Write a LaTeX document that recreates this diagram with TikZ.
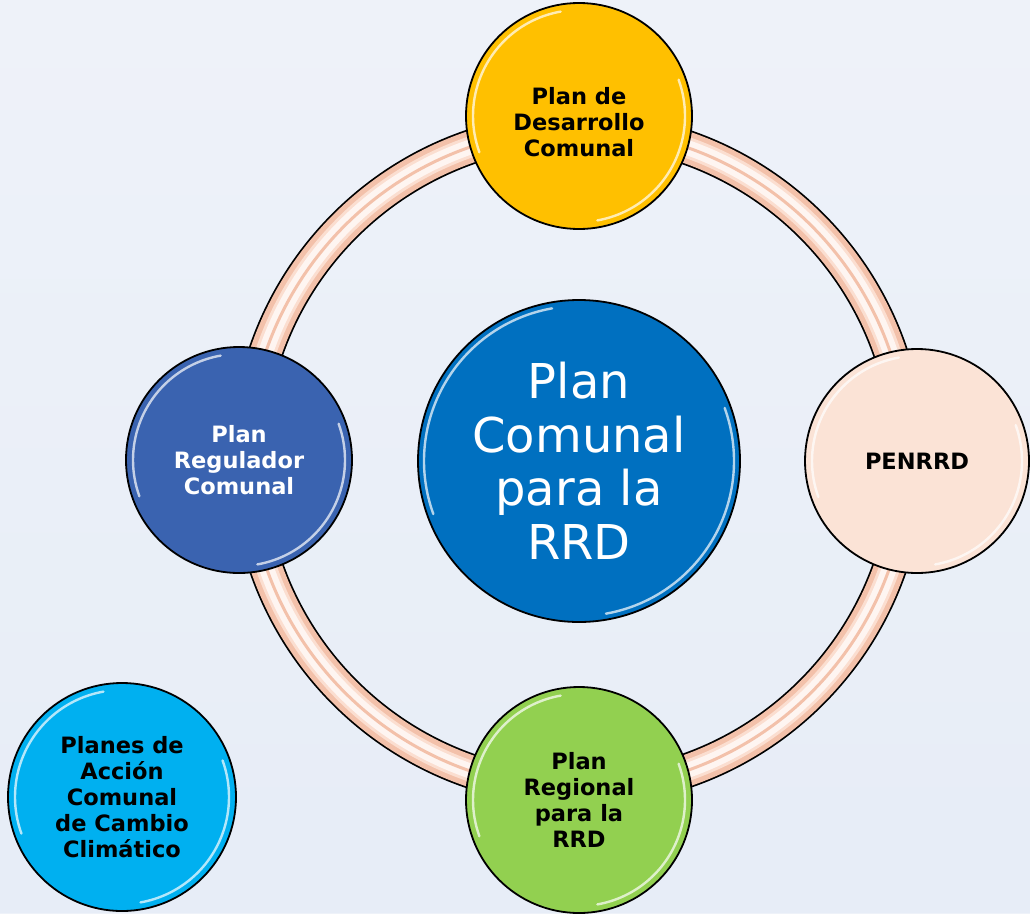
\documentclass[tikz,border=0pt]{standalone}
\usepackage{fontspec}
\setmainfont{DejaVu Sans}
\definecolor{bgc}{RGB}{231,237,247}
\definecolor{ringc}{RGB}{243,193,170}
\definecolor{ringl}{RGB}{251,222,208}
\definecolor{yel}{RGB}{255,192,0}
\definecolor{pea}{RGB}{251,227,214}
\definecolor{blu}{RGB}{58,99,176}
\definecolor{grn}{RGB}{146,208,80}
\definecolor{cya}{RGB}{0,176,240}
\definecolor{cen}{RGB}{0,112,192}
\tikzset{
  bubble/.style={circle, draw=black, line width=1.8pt, minimum size=#1, inner sep=0pt, align=center,
     font=\fontsize{22.5}{26}\selectfont\bfseries},
  lbl/.style={align=center, inner sep=0pt, font=\fontsize{22.5}{26}\selectfont\bfseries},
  gloss/.style={white, line width=2.4pt, opacity=0.7, line cap=round},
}
\newcommand{\glossy}[2]{%
  \draw[gloss] ([shift={(100:#2)}]#1.center) arc (100:200:#2);
  \draw[gloss] ([shift={(-80:#2)}]#1.center) arc (-80:20:#2);
}
\begin{document}
\begin{tikzpicture}[x=1pt,y=-1pt]
\useasboundingbox (0,0) rectangle (1030,913);
\fill[bgc] (0,0) rectangle (1030,913);
\shade[top color=bgc!55!white, bottom color=bgc, opacity=0.7] (0,0) rectangle (1030,913);
% ring
\coordinate (o) at (578,459);
\draw[black, line width=35pt] (o) circle (330pt);
\draw[ringc, line width=31.5pt] (o) circle (330pt);
\draw[ringl, line width=21pt] (o) circle (330pt);
\draw[white!70!ringl, line width=15pt] (o) circle (330pt);
\draw[ringc, line width=3pt] (o) circle (330pt);
% nodes
\node[bubble=226pt, fill=yel] (pdc) at (579,116) {};
\node[lbl] (pdct) at (579,122) {Plan de\\Desarrollo\\Comunal};
\node[bubble=224pt, fill=pea] (pen) at (917,461) {PENRRD};
\node[bubble=226pt, fill=blu, text=white] (prc) at (239,460) {Plan\\Regulador\\Comunal};
\node[bubble=226pt, fill=grn] (prr) at (579,800) {Plan\\Regional\\para la\\RRD};
\node[bubble=228pt, fill=cya] (pac) at (122,797) {Planes de\\Acción\\Comunal\\de Cambio\\Climático};
\node[bubble=322pt, fill=cen, text=white, font=\fontsize{48}{53.5}\selectfont] (pcr) at (579,461) {Plan\\Comunal\\para la\\RRD};
\glossy{pdc}{106pt}
\glossy{pen}{105pt}
\glossy{prc}{106pt}
\glossy{prr}{106pt}
\glossy{pac}{107pt}
\glossy{pcr}{155pt}
\end{tikzpicture}
\end{document}
